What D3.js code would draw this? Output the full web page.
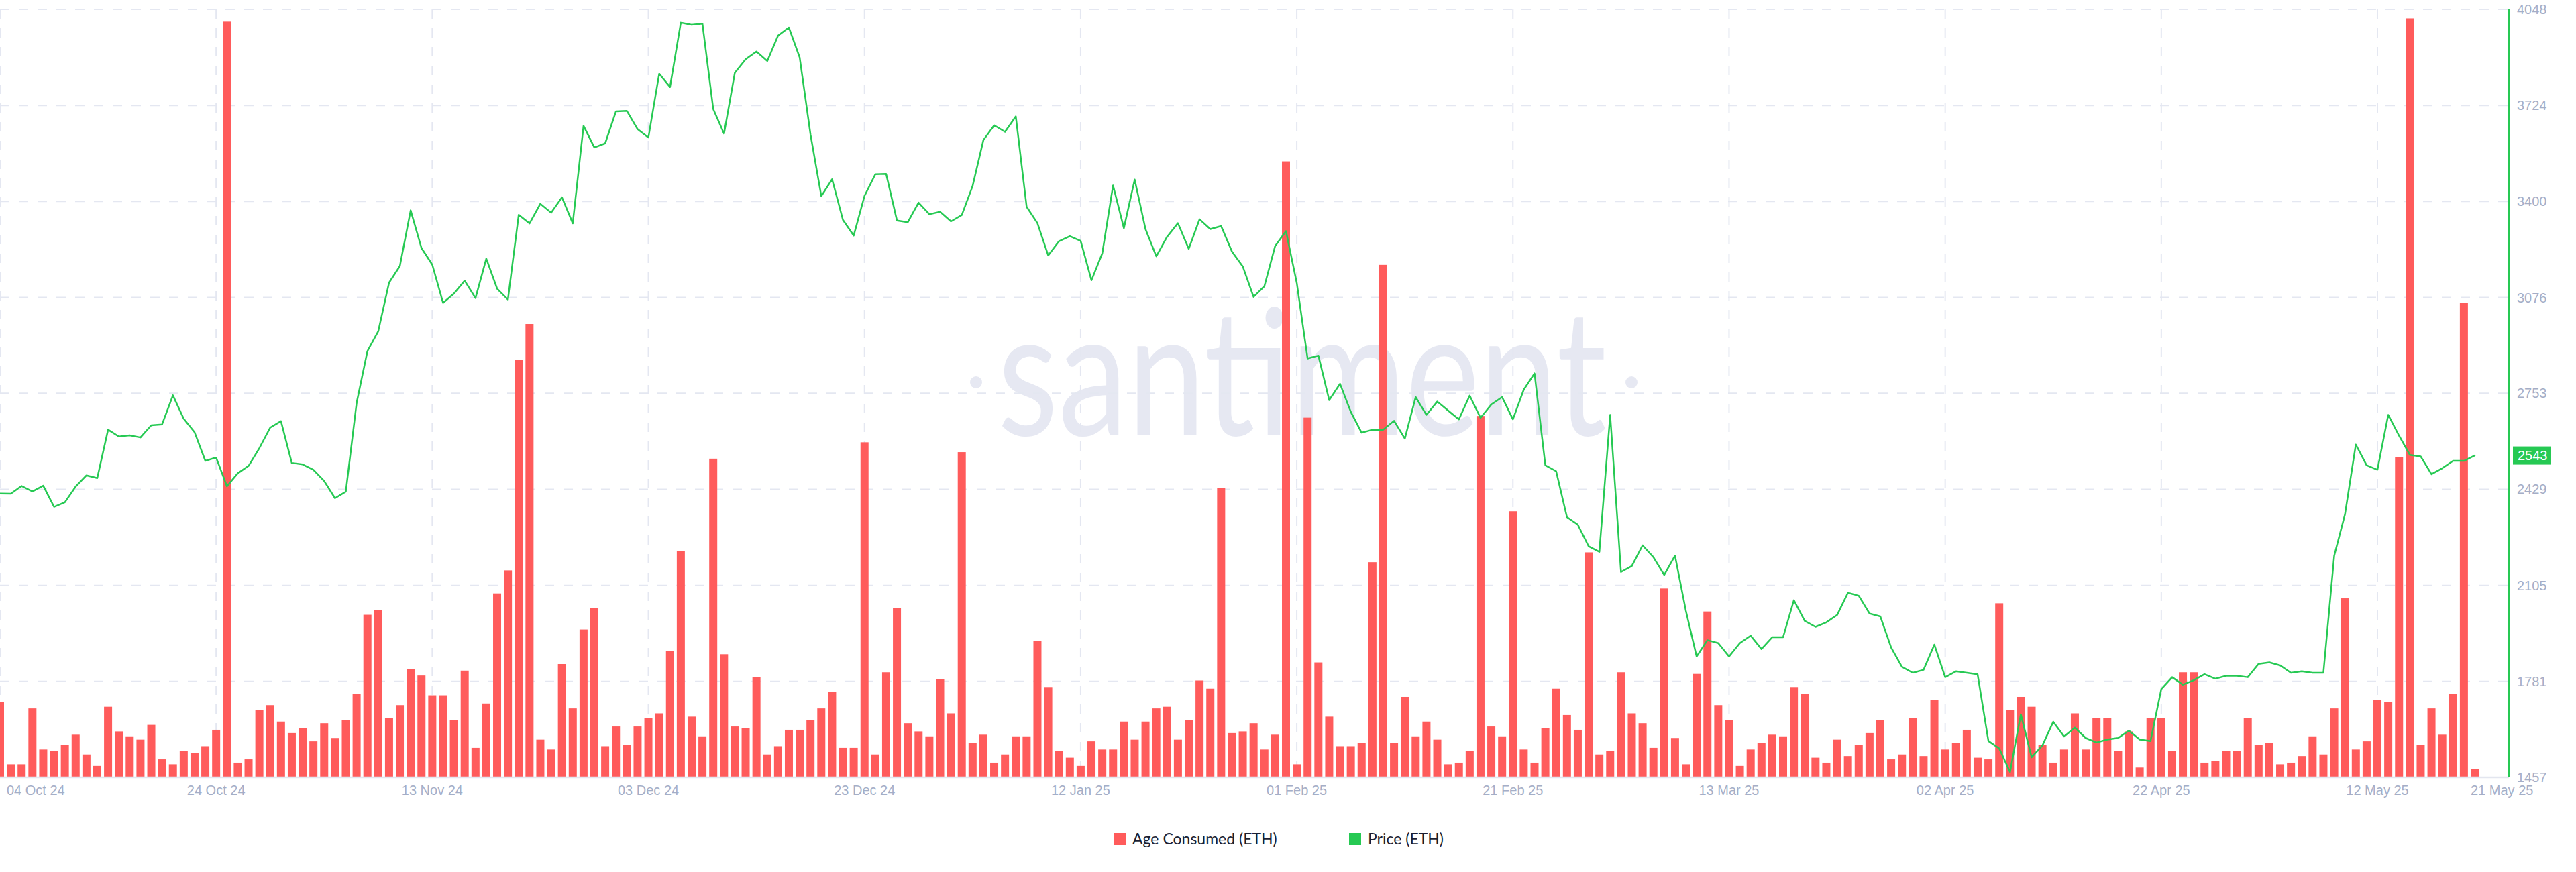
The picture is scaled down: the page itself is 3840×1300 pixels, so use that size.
<!DOCTYPE html>
<html><head><meta charset="utf-8">
<script src="https://cdn.jsdelivr.net/npm/d3@7/dist/d3.min.js"></script>
<style>
html,body{margin:0;padding:0;background:#fff;}
svg{display:block;}
</style></head>
<body>
<svg id="chart" width="3840" height="1300"></svg>
<script>
// ---------------- DATA ----------------
const startDate = "2024-10-04"; // first daily point; one point per day to 21 May 25

// Age Consumed (ETH), relative units (daily)
const ageConsumed = [46,8,8,42,17,16,20,26,14,7,43,28,25,23,32,11,8,16,15,19,29,460,9,11,41,44,34,27,30,
22,33,24,35,51,99,102,36,44,66,62,50,50,35,65,18,45,112,126,254,276,23,17,69,42,90,103,19,31,20,31,36,39,77,138,37,25,194,75,31,30,61,14,19,29,29,35,42,52,18,18,204,14,64,103,33,28,25,60,39,198,21,26,9,14,25,25,83,55,16,12,7,22,17,17,34,23,34,42,43,23,35,59,54,176,27,28,33,17,26,375,8,219,70,37,19,19,21,131,312,21,49,25,34,23,8,9,16,220,31,25,162,17,9,30,54,38,29,137,14,16,64,39,33,18,115,24,8,63,101,44,35,7,17,21,26,25,55,51,12,9,23,13,20,27,35,11,14,36,13,47,17,21,29,12,11,106,41,49,43,20,9,17,39,17,36,36,16,28,6,36,36,16,64,64,9,10,16,16,36,20,21,8,9,13,25,14,42,109,17,22,47,46,195,462,20,42,26,51,289,5];

// Price (ETH), USD daily
const price = [2415,2414,2440,2422,2441,2370,2385,2438,2476,2467,2630,2607,2611,2604,2645,2648,2746,2667,2622,2525,
2536,2439,2483,2508,2568,2637,2659,2518,2513,2495,2457,2399,2421,2720,2895,2962,3126,3182,3370,3243,
3187,3058,3089,3133,3074,3207,3106,3069,3355,3326,3392,3362,3414,3326,3655,3582,3596,3704,3706,3644,
3616,3831,3786,4003,3996,4000,3712,3629,3834,3880,3906,3874,3960,3987,3886,3626,3418,3475,3338,3285,
3419,3492,3493,3336,3330,3396,3357,3365,3333,3354,3452,3607,3657,3635,3687,3382,3327,3218,3266,3283,
3267,3134,3225,3454,3310,3474,3307,3215,3281,3327,3240,3340,3307,3317,3231,3181,3078,3114,3250,3300,
3125,2870,2880,2730,2785,2690,2620,2630,2630,2660,2600,2740,2680,2725,2695,2665,2745,2670,2715,2740,
2665,2765,2820,2510,2490,2335,2310,2237,2218,2680,2150,2170,2240,2200,2140,2205,2020,1865,1920,1910,
1865,1910,1935,1890,1930,1930,2055,1985,1965,1980,2005,2080,2070,2010,2000,1895,1830,1810,1820,1905,
1795,1815,1810,1805,1580,1555,1475,1670,1525,1565,1645,1595,1625,1590,1575,1585,1590,1615,1585,1580,
1755,1795,1770,1785,1805,1790,1800,1800,1795,1840,1845,1835,1810,1815,1810,1810,2205,2345,2580,2510,
2495,2680,2610,2545,2540,2480,2500,2525,2525,2543];

const priceTicks = [4048,3724,3400,3076,2753,2429,2105,1781,1457];
const dateTickLabels = ["04 Oct 24","24 Oct 24","13 Nov 24","03 Dec 24","23 Dec 24","12 Jan 25","01 Feb 25","21 Feb 25","13 Mar 25","02 Apr 25","22 Apr 25","12 May 25"];
const lastDateLabel = "21 May 25";
const lastPriceLabel = "2543";
const seriesNames = ["Age Consumed (ETH)","Price (ETH)"];
const watermarkText = "santiment";

// ---------------- LAYOUT / STYLE ----------------
const plotL = 0, plotR = 3740, plotT = 14, plotB = 1159, dataR = 3689;
const RED = "#ff5b5b", GREEN = "#26c953", GRID = "#e4e7f1", AXIS_TXT = "#a4aec7";
const FONT = "'Liberation Sans', Arial, Helvetica, sans-serif";

const svg = d3.select("#chart");
const start = d3.utcParse("%Y-%m-%d")(startDate);
const days = price.map((_, i) => d3.utcDay.offset(start, i));
const tickDates = dateTickLabels.map((_, k) => d3.utcDay.offset(start, k * 20));

const x = d3.scaleUtc().domain([days[0], days[days.length - 1]]).range([plotL, dataR]);
const yP = d3.scaleLinear().domain([priceTicks[priceTicks.length-1], priceTicks[0]]).range([plotB, plotT]);
const yB = d3.scaleLinear().domain([0, 467.5]).range([plotB, plotT]);

// clip
svg.append("defs").append("clipPath").attr("id", "plotclip")
  .append("rect").attr("x", plotL).attr("y", 0).attr("width", plotR - plotL).attr("height", plotB + 1);

// watermark
const wm = svg.append("g").attr("fill", "#e6e8f2");
wm.append("text").attr("x", 1487).attr("y", 649)
  .attr("font-family", "Lato, 'Open Sans', sans-serif").attr("font-size", 262).attr("font-weight", 400)
  .attr("textLength", 908).attr("lengthAdjust", "spacingAndGlyphs").text(watermarkText);
wm.append("circle").attr("cx", 1455).attr("cy", 570).attr("r", 9);
wm.append("circle").attr("cx", 2432).attr("cy", 570).attr("r", 9);

// horizontal grid (dashed)
svg.append("g").selectAll("line").data(priceTicks.slice(0, -1)).join("line")
  .attr("x1", plotL).attr("x2", plotR)
  .attr("y1", d => yP(d)).attr("y2", d => yP(d))
  .attr("stroke", GRID).attr("stroke-width", 2).attr("stroke-dasharray", "14,14");

// vertical grid (dashed)
svg.append("g").selectAll("line").data(tickDates).join("line")
  .attr("x1", d => Math.max(x(d), 1)).attr("x2", d => Math.max(x(d), 1))
  .attr("y1", plotT).attr("y2", plotB)
  .attr("stroke", GRID).attr("stroke-width", 2).attr("stroke-dasharray", "14,14");

// bars
svg.append("g").attr("clip-path", "url(#plotclip)").selectAll("rect").data(ageConsumed).join("rect")
  .attr("x", (d, i) => x(days[i]) - 6).attr("width", 12)
  .attr("y", d => yB(d)).attr("height", d => plotB - yB(d))
  .attr("fill", RED);

// bottom axis line
svg.append("line").attr("x1", plotL).attr("x2", plotR).attr("y1", plotB).attr("y2", plotB)
  .attr("stroke", "#e3e6ef").attr("stroke-width", 2.5);

// price line
const line = d3.line().x((d, i) => x(days[i])).y(d => yP(d));
svg.append("path").datum(price).attr("d", line)
  .attr("fill", "none").attr("stroke", GREEN).attr("stroke-width", 2.5)
  .attr("stroke-linejoin", "round").attr("stroke-linecap", "round");

// right axis
svg.append("line").attr("x1", plotR).attr("x2", plotR).attr("y1", plotT).attr("y2", plotB)
  .attr("stroke", GREEN).attr("stroke-width", 2);
svg.append("g").selectAll("text").data(priceTicks).join("text")
  .attr("x", plotR + 12).attr("y", d => yP(d)).attr("dy", "0.35em")
  .attr("font-family", FONT).attr("font-size", 20).attr("fill", AXIS_TXT)
  .text(d => d);

// last price badge
const lp = +lastPriceLabel;
svg.append("rect").attr("x", plotR + 6).attr("y", yP(lp) - 13.5).attr("width", 57).attr("height", 27).attr("fill", GREEN);
svg.append("text").attr("x", plotR + 13).attr("y", yP(lp)).attr("dy", "0.36em")
  .attr("font-family", FONT).attr("font-size", 20).attr("fill", "#fff").text(lastPriceLabel);

// x labels
const xl = svg.append("g").attr("font-family", FONT).attr("font-size", 20).attr("fill", AXIS_TXT);
dateTickLabels.forEach((t, k) => {
  const px = x(tickDates[k]);
  xl.append("text").attr("x", k === 0 ? 10 : px).attr("y", 1185)
    .attr("text-anchor", k === 0 ? "start" : "middle").text(t);
});
xl.append("text").attr("x", 3683).attr("y", 1185).attr("text-anchor", "start").text(lastDateLabel);

// legend
const lg = svg.append("g").attr("font-family", "Lato, 'Open Sans', sans-serif").attr("font-size", 23).attr("fill", "#1b1f33");
const legendItems = [{name: seriesNames[0], color: RED, x: 1660}, {name: seriesNames[1], color: GREEN, x: 2011}];
legendItems.forEach(it => {
  lg.append("rect").attr("x", it.x).attr("y", 1242).attr("width", 18).attr("height", 18).attr("fill", it.color);
  lg.append("text").attr("x", it.x + 28).attr("y", 1259).text(it.name);
});
</script>
</body></html>
